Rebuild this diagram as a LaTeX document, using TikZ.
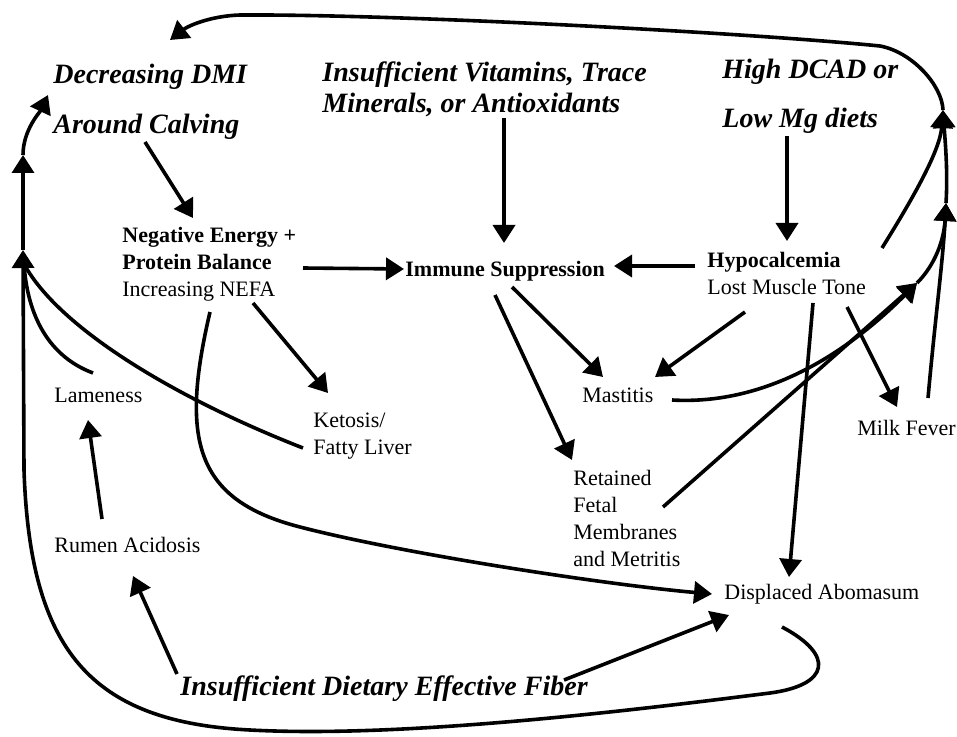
\documentclass[tikz,border=0pt]{standalone}
\usepackage{fontspec}
\setmainfont{Liberation Serif}
\usetikzlibrary{arrows.meta,calc}
\begin{document}
\begin{tikzpicture}[x=0.5pt,y=-0.5pt,
  lbl/.style={inner sep=0pt, anchor=base west, align=left, font=\fontsize{11}{13.5}\selectfont},
  big/.style={lbl, font=\bfseries\itshape\fontsize{14}{25}\selectfont},
  conn/.style={line width=1.8pt, -{Triangle[length=9pt,width=11pt]}},
  wire/.style={line width=1.8pt}]
\useasboundingbox (0,0) rectangle (957,737);
\fill[white] (0,0) rectangle (957,737);

% texts (anchor = baseline of the last line)
\node[big] (dmi) at (53,134) {Decreasing DMI\\Around Calving};
\node[big, font=\bfseries\itshape\fontsize{14}{15.5}\selectfont] (vit) at (322,113) {Insufficient Vitamins, Trace\\Minerals, or Antioxidants};
\node[big, font=\bfseries\itshape\fontsize{14}{24.5}\selectfont] (dcad) at (722,128) {High DCAD or\\Low Mg diets};
\node[lbl] (neb) at (122,297) {\textbf{Negative Energy +}\\\textbf{Protein Balance}\\Increasing NEFA};
\node[lbl] (imm) at (405,277) {\textbf{Immune Suppression}};
\node[lbl] (hyp) at (707,295) {\textbf{Hypocalcemia}\\Lost Muscle Tone};
\node[lbl] (mast) at (582,402) {Mastitis};
\node[lbl] (milk) at (857,435) {Milk Fever};
\node[lbl] (lame) at (54,402) {Lameness};
\node[lbl] (keto) at (313,454) {Ketosis/\\Fatty Liver};
\node[lbl] (rumen) at (54,552) {Rumen Acidosis};
\node[lbl] (ret) at (573,566) {Retained\\Fetal\\Membranes\\and Metritis};
\node[lbl] (da) at (724,599) {Displaced Abomasum};
\node[big] (fiber) at (180,695) {Insufficient Dietary Effective Fiber};

% junctions
\coordinate (jL) at (24,264);
\coordinate (jL1) at (23,250);
\coordinate (jL2) at (23,155);
\coordinate (jR1) at (943,110);
\coordinate (jR2) at (946,203);
\coordinate (jR3) at (917,283);

% straight connectors
\draw[conn] ($(dmi.base west)+(92,8)$) -- ($(neb.base west)+(71,-79)$);
\draw[conn] ($(neb.base west)+(181,-29)$) -- ($(imm.base west)+(-1,-8)$);
\draw[conn] ($(vit.base west)+(182,5)$) -- ($(imm.base west)+(99,-34)$);
\draw[conn] ($(dcad.base west)+(65,8)$) -- ($(hyp.base west)+(80,-54)$);
\draw[conn] ($(hyp.base west)+(-12,-29)$) -- ($(imm.base west)+(209,-11)$);
\draw[conn] ($(imm.base west)+(107,10)$) -- ($(mast.base west)+(21,-25)$);
\draw[conn] ($(imm.base west)+(90,18)$) -- ($(ret.base west)+(-1,-106)$);
\draw[conn] ($(hyp.base west)+(38,17)$) -- ($(mast.base west)+(73,-25)$);
\draw[conn] ($(hyp.base west)+(140,12)$) -- ($(milk.base west)+(40,-28)$);
\draw[conn] ($(hyp.base west)+(106,8)$) -- ($(da.base west)+(65,-22)$);
\draw[conn] ($(neb.base west)+(131,6)$) -- ($(keto.base west)+(15,-61)$);
\draw[conn] ($(rumen.base west)+(48,-33)$) -- ($(lame.base west)+(34,18)$);
\draw[conn] ($(fiber.base west)+(-3,-21)$) -- ($(rumen.base west)+(79,24)$);
\draw[conn] ($(fiber.base west)+(384,-15)$) -- ($(da.base west)+(5,16)$);

% NEFA -> displaced abomasum
\draw[conn] ($(neb.base west)+(88,15)$) .. controls (180,440) and (195,500) .. (300,527)
  .. controls (400,553) and (600,584) .. ($(da.base west)+(-12,-5)$);

% left side feedback
\draw[wire] ($(keto.base west)+(-10,-6)$) .. controls (180,400) and (60,330) .. (jL);
\draw[wire] ($(lame.base west)+(39,-29)$) .. controls (45,355) and (27,310) .. (jL);
\draw[conn] ($(da.base west)+(58,28)$) .. controls (835,655) and (830,685) .. (770,693)
  .. controls (620,712) and (400,738) .. (250,730)
  .. controls (90,722) and (30,650) .. (24,470) -- (jL1);
\draw[conn] (jL1) -- (jL2);
\draw[conn] (jL2) .. controls (23,130) and (40,112) .. ($(dmi.base west)+(-5,-39)$);

% right side feedback
\draw[conn] ($(mast.base west)+(90,-2)$) .. controls (760,405) and (840,360) .. (jR3);
\draw[conn] ($(ret.base west)+(90,-59)$) -- (jR3);
\draw[conn] (jR3) .. controls (935,265) and (944,240) .. (jR2);
\draw[conn] ($(milk.base west)+(71,-37)$) .. controls (935,320) and (943,260) .. (jR2);
\draw[conn] (jR2) .. controls (948,170) and (945,140) .. (jR1);
\draw[conn] ($(hyp.base west)+(175,-47)$) .. controls (915,195) and (940,150) .. (jR1);
\draw[conn] (jR1) .. controls (942,85) and (912,52) .. (880,46)
  .. controls (750,33) and (400,14) .. (240,15)
  .. controls (210,16) and (188,26) .. ($(dmi.base west)+(117,-94)$);
\end{tikzpicture}
\end{document}
